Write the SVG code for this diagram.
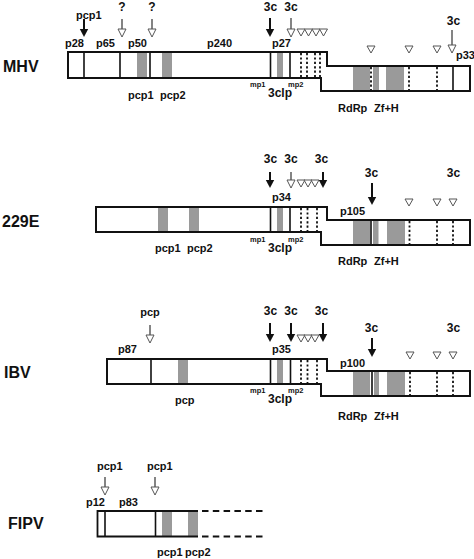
<svg xmlns="http://www.w3.org/2000/svg" width="474" height="559" viewBox="0 0 474 559">
<style>
.bg{fill:#fff}
.box{fill:#fff;stroke:#111;stroke-width:1.8}
.out{fill:none;stroke:#111;stroke-width:1.8}
.div{stroke:#111;stroke-width:1.6}
.dot{stroke:#111;stroke-width:1.8;stroke-dasharray:2.2 2.2}
.dash{stroke:#111;stroke-width:1.8;stroke-dasharray:6.5 4.3}
.sh{fill:#9a9a9a}
.t{font-family:"Liberation Sans",Arial,sans-serif;font-weight:bold;font-size:11px;fill:#111}
.nm{font-size:16px}
.sm{font-size:7.5px}
.c3{font-size:12px}
.bs{stroke:#111;stroke-width:2}
.gs{stroke:#777;stroke-width:1.8}
.bh{fill:#111}
.oh{fill:#fff;stroke:#555;stroke-width:1}
</style>
<defs>
<path id="bh" class="bh" d="M-4.2,-8 L4.2,-8 L0,0 Z"/>
<path id="oh" class="oh" d="M-4,-8 L4,-8 L0,0 Z"/>
<path id="tri" class="oh" d="M-4,0 L4,0 L0,7 Z"/>
</defs>
<rect class="bg" x="0" y="0" width="474" height="559"/>

<!-- MHV -->
<g id="MHV">
<path class="box" d="M68,52 H327 V66 H470 V91 H321 V78 H68 Z"/>
<rect class="sh" x="137" y="52" width="10" height="26"/>
<rect class="sh" x="162" y="52" width="10" height="26"/>
<rect class="sh" x="277" y="52" width="6" height="26"/>
<rect class="sh" x="353" y="66" width="17" height="25"/>
<rect class="sh" x="373" y="66" width="6" height="25"/>
<rect class="sh" x="386" y="66" width="18" height="25"/>
<line class="div" x1="84" y1="52" x2="84" y2="78"/>
<line class="div" x1="120" y1="52" x2="120" y2="78"/>
<line class="div" x1="150" y1="52" x2="150" y2="78"/>
<line class="div" x1="270.5" y1="52" x2="270.5" y2="78"/>
<line class="div" x1="290" y1="52" x2="290" y2="78"/>
<line class="dot" x1="301" y1="53" x2="301" y2="78"/>
<line class="dot" x1="307" y1="53" x2="307" y2="78"/>
<line class="dot" x1="315" y1="53" x2="315" y2="78"/>
<line class="dot" x1="320" y1="53" x2="320" y2="78"/>
<line class="dot" x1="371" y1="67" x2="371" y2="91"/>
<line class="dot" x1="409" y1="67" x2="409" y2="91"/>
<line class="dot" x1="437" y1="67" x2="437" y2="91"/>
<line class="div" x1="453" y1="66" x2="453" y2="91"/>
<path class="out" d="M68,52 H327 V66 H470 V91 H321 V78 H68 Z"/>
<text class="t nm" x="3" y="72">MHV</text>
<text class="t" x="76" y="19">pcp1</text>
<text class="t c3" x="122" y="11" text-anchor="middle">?</text>
<text class="t c3" x="152" y="11" text-anchor="middle">?</text>
<text class="t c3" x="270.5" y="11" text-anchor="middle">3c</text>
<text class="t c3" x="291" y="11" text-anchor="middle">3c</text>
<text class="t c3" x="453.5" y="25" text-anchor="middle">3c</text>
<text class="t" x="65" y="47">p28</text>
<text class="t" x="96" y="47">p65</text>
<text class="t" x="128" y="47">p50</text>
<text class="t" x="207" y="47">p240</text>
<text class="t" x="272" y="47">p27</text>
<text class="t" x="456" y="59">p33</text>
<text class="t" x="128" y="99">pcp1</text>
<text class="t" x="160" y="99">pcp2</text>
<text class="t sm" x="250" y="87">mp1</text>
<text class="t sm" x="288" y="87">mp2</text>
<text class="t c3" x="268" y="97">3clp</text>
<text class="t" x="338" y="112">RdRp</text>
<text class="t" x="374" y="112">Zf+H</text>
</g>

<!-- 229E -->
<g id="E229">
<path class="box" d="M96,207 H327 V220 H470 V245 H321 V232 H96 Z"/>
<rect class="sh" x="158" y="207" width="10" height="25"/>
<rect class="sh" x="189" y="207" width="10" height="25"/>
<rect class="sh" x="277" y="207" width="6" height="25"/>
<rect class="sh" x="353" y="220" width="17" height="25"/>
<rect class="sh" x="373" y="220" width="5.5" height="25"/>
<rect class="sh" x="387" y="220" width="18" height="25"/>
<line class="div" x1="270.5" y1="207" x2="270.5" y2="232"/>
<line class="div" x1="290" y1="207" x2="290" y2="232"/>
<line class="dot" x1="301" y1="208" x2="301" y2="232"/>
<line class="dot" x1="307.5" y1="208" x2="307.5" y2="232"/>
<line class="dot" x1="317" y1="208" x2="317" y2="232"/>
<line class="div" x1="371" y1="220" x2="371" y2="245"/>
<line class="dot" x1="409.5" y1="221" x2="409.5" y2="245"/>
<line class="dot" x1="437" y1="221" x2="437" y2="245"/>
<line class="dot" x1="453" y1="221" x2="453" y2="245"/>
<path class="out" d="M96,207 H327 V220 H470 V245 H321 V232 H96 Z"/>
<text class="t nm" x="2" y="227">229E</text>
<text class="t c3" x="270.5" y="163" text-anchor="middle">3c</text>
<text class="t c3" x="291" y="163" text-anchor="middle">3c</text>
<text class="t c3" x="321.5" y="163" text-anchor="middle">3c</text>
<text class="t c3" x="371.5" y="177" text-anchor="middle">3c</text>
<text class="t c3" x="453.5" y="177" text-anchor="middle">3c</text>
<text class="t" x="272" y="201">p34</text>
<text class="t" x="340" y="215">p105</text>
<text class="t" x="155" y="252">pcp1</text>
<text class="t" x="187" y="252">pcp2</text>
<text class="t sm" x="250" y="242">mp1</text>
<text class="t sm" x="288" y="242">mp2</text>
<text class="t c3" x="268" y="252">3clp</text>
<text class="t" x="338" y="265">RdRp</text>
<text class="t" x="374" y="265">Zf+H</text>
</g>

<!-- IBV -->
<g id="IBV">
<path class="box" d="M107,359 H327 V371 H470 V396 H321 V384 H107 Z"/>
<rect class="sh" x="178" y="359" width="10" height="25"/>
<rect class="sh" x="277" y="359" width="6" height="25"/>
<rect class="sh" x="353" y="371" width="17" height="25"/>
<rect class="sh" x="374" y="371" width="5" height="25"/>
<rect class="sh" x="387" y="371" width="18" height="25"/>
<line class="div" x1="151" y1="359" x2="151" y2="384"/>
<line class="div" x1="270.5" y1="359" x2="270.5" y2="384"/>
<line class="div" x1="290.5" y1="359" x2="290.5" y2="384"/>
<line class="dot" x1="301" y1="360" x2="301" y2="384"/>
<line class="dot" x1="307.5" y1="360" x2="307.5" y2="384"/>
<line class="dot" x1="317" y1="360" x2="317" y2="384"/>
<line class="div" x1="372" y1="371" x2="372" y2="396"/>
<line class="dot" x1="410" y1="372" x2="410" y2="396"/>
<line class="dot" x1="437" y1="372" x2="437" y2="396"/>
<line class="dot" x1="453" y1="372" x2="453" y2="396"/>
<path class="out" d="M107,359 H327 V371 H470 V396 H321 V384 H107 Z"/>
<text class="t nm" x="4" y="378">IBV</text>
<text class="t" x="150" y="316" text-anchor="middle">pcp</text>
<text class="t c3" x="270.5" y="315" text-anchor="middle">3c</text>
<text class="t c3" x="291" y="315" text-anchor="middle">3c</text>
<text class="t c3" x="321.5" y="315" text-anchor="middle">3c</text>
<text class="t c3" x="371.5" y="332" text-anchor="middle">3c</text>
<text class="t c3" x="453.5" y="332" text-anchor="middle">3c</text>
<text class="t" x="118" y="353">p87</text>
<text class="t" x="272" y="353">p35</text>
<text class="t" x="340" y="367">p100</text>
<text class="t" x="175" y="404">pcp</text>
<text class="t sm" x="250" y="393">mp1</text>
<text class="t sm" x="288" y="393">mp2</text>
<text class="t c3" x="268" y="403">3clp</text>
<text class="t" x="338" y="420">RdRp</text>
<text class="t" x="374" y="420">Zf+H</text>
</g>

<!-- FIPV -->
<g id="FIPV">
<rect x="97.5" y="511" width="100.5" height="25.5" fill="#fff"/>
<rect class="sh" x="162" y="511" width="10" height="25.5"/>
<rect class="sh" x="188" y="511" width="10" height="25.5"/>
<line class="div" x1="105" y1="511" x2="105" y2="536.5"/>
<line class="div" x1="155.5" y1="511" x2="155.5" y2="536.5"/>
<path class="out" d="M198,511 H97.5 V536.5 H198"/>
<line class="dash" x1="202" y1="511" x2="264" y2="511"/>
<line class="dash" x1="202" y1="536.5" x2="264" y2="536.5"/>
<text class="t nm" x="8" y="529">FIPV</text>
<text class="t" x="97" y="470">pcp1</text>
<text class="t" x="147" y="470">pcp1</text>
<text class="t" x="86" y="506">p12</text>
<text class="t" x="119" y="506">p83</text>
<text class="t" x="157" y="556">pcp1</text>
<text class="t" x="185" y="556">pcp2</text>
</g>

<!-- arrows / cleavage markers -->
<g id="connectors">
<!-- MHV -->
<line class="bs" x1="84" y1="19" x2="84" y2="30"/><use href="#bh" x="84" y="37"/>
<line class="gs" x1="122" y1="19" x2="122" y2="29"/><use href="#oh" x="122" y="37"/>
<line class="gs" x1="152" y1="19" x2="152" y2="29"/><use href="#oh" x="152" y="37"/>
<line class="bs" x1="270" y1="18" x2="270" y2="30"/><use href="#bh" x="270" y="37"/>
<line class="gs" x1="291" y1="18" x2="291" y2="29"/><use href="#oh" x="291" y="37"/>
<use href="#tri" x="301" y="29"/><use href="#tri" x="308.5" y="29"/><use href="#tri" x="316" y="29"/><use href="#tri" x="323.5" y="29"/>
<use href="#tri" x="371" y="46"/><use href="#tri" x="409" y="46"/><use href="#tri" x="437" y="46"/>
<line class="gs" x1="452" y1="30" x2="452" y2="45"/><use href="#oh" x="452" y="53"/>
<!-- 229E -->
<line class="bs" x1="270" y1="172" x2="270" y2="181"/><use href="#bh" x="270" y="188"/>
<line class="gs" x1="291" y1="172" x2="291" y2="180"/><use href="#oh" x="291" y="188"/>
<use href="#tri" x="301" y="180"/><use href="#tri" x="308" y="180"/><use href="#tri" x="315" y="180"/>
<line class="bs" x1="323" y1="172" x2="323" y2="181"/><use href="#bh" x="323" y="188"/>
<line class="bs" x1="372" y1="183" x2="372" y2="198"/><use href="#bh" x="372" y="205"/>
<use href="#tri" x="409" y="199"/><use href="#tri" x="437" y="199"/><use href="#tri" x="453" y="199"/>
<!-- IBV -->
<line class="gs" x1="150" y1="325" x2="150" y2="335"/><use href="#oh" x="150" y="343"/>
<line class="bs" x1="270" y1="323" x2="270" y2="335"/><use href="#bh" x="270" y="342"/>
<line class="bs" x1="291" y1="323" x2="291" y2="335"/><use href="#bh" x="291" y="342"/>
<use href="#tri" x="301" y="335"/><use href="#tri" x="308" y="335"/><use href="#tri" x="315" y="335"/>
<line class="bs" x1="323" y1="323" x2="323" y2="335"/><use href="#bh" x="323" y="342"/>
<line class="bs" x1="372" y1="338" x2="372" y2="350"/><use href="#bh" x="372" y="357"/>
<use href="#tri" x="410" y="352"/><use href="#tri" x="437" y="352"/><use href="#tri" x="453" y="352"/>
<!-- FIPV -->
<line class="gs" x1="105" y1="477" x2="105" y2="487"/><use href="#oh" x="105" y="495"/>
<line class="gs" x1="155" y1="477" x2="155" y2="487"/><use href="#oh" x="155" y="495"/>
</g>
</svg>
